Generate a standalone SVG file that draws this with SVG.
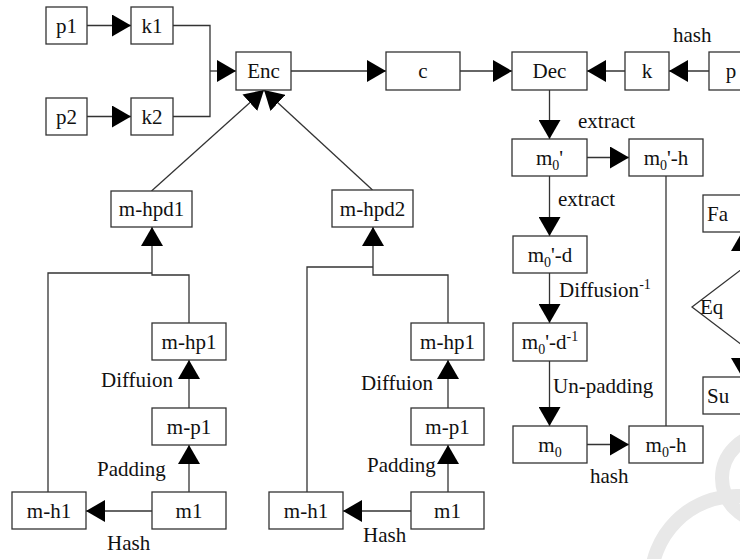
<svg xmlns="http://www.w3.org/2000/svg" width="740" height="559" viewBox="0 0 740 559">
  <defs>
    <marker id="arrow" markerUnits="userSpaceOnUse" markerWidth="19" markerHeight="22" refX="19" refY="11" orient="auto">
      <path d="M0,0 L19,11 L0,22 Z" fill="#000"/>
    </marker>
  </defs>
  <style>
    .box { fill: #fff; stroke: #333; stroke-width: 1.3; }
    .line { fill: none; stroke: #333; stroke-width: 1.3; }
    .arr { marker-end: url(#arrow); }
    .c { text-anchor: middle; }
    .sub { font-size: 14px; }
    .mark { fill: none; stroke: #e8e8e8; stroke-width: 14; }
  </style>

  <rect width="740" height="559" fill="#fff"/>

  <!-- background logo arcs -->
  <g id="logo">
    <circle class="mark" cx="737" cy="582" r="86"/>
    <circle class="mark" cx="765" cy="478" r="43"/>
  </g>

  <!-- connectors -->
  <g id="connectors">
    <path class="line arr" d="M87,25.5 H131"/>
    <path class="line arr" d="M87,116.5 H131"/>
    <path class="line" d="M173,25.5 H210 V116.5 H173"/>
    <path class="line arr" d="M210,71 H236"/>
    <path class="line arr" d="M291,71 H386"/>
    <path class="line arr" d="M460,71 H512"/>
    <path class="line arr" d="M625,71 H587"/>
    <path class="line arr" d="M709,71 H669"/>
    <path class="line arr" d="M549.5,90 V139"/>
    <path class="line arr" d="M587,157.5 H629"/>
    <path class="line arr" d="M549.5,176 V236"/>
    <path class="line arr" d="M549.5,273 V323"/>
    <path class="line arr" d="M549.5,361 V426"/>
    <path class="line arr" d="M587,444.5 H629"/>
    <path class="line" d="M666,176 V426"/>
    <path class="line arr" d="M742,269 V232"/>
    <path class="line arr" d="M742,345 V377"/>
    <!-- into Enc -->
    <path class="line arr" d="M151.5,191 L264,90"/>
    <path class="line arr" d="M372.5,190 L264,90"/>
    <!-- left branch -->
    <path class="line arr" d="M152,511 H86"/>
    <path class="line arr" d="M189,492 V445"/>
    <path class="line arr" d="M189,408 V360"/>
    <path class="line" d="M48,492 V273 H152"/>
    <path class="line arr" d="M189,323 V275 H152 V227"/>
    <!-- right branch -->
    <path class="line arr" d="M411,511 H343"/>
    <path class="line arr" d="M448,492 V445"/>
    <path class="line arr" d="M448,408 V360"/>
    <path class="line" d="M307,492 V267 H373"/>
    <path class="line arr" d="M448,323 V275 H373 V227"/>
  </g>

  <g font-family="Liberation Serif, serif" font-size="21" fill="#111">
  <!-- nodes -->
  <g id="p1"><rect class="box" x="46" y="7" width="41" height="37"/><text class="c" x="66.5" y="33">p1</text></g>
  <g id="k1"><rect class="box" x="131" y="7" width="42" height="37"/><text class="c" x="152" y="33">k1</text></g>
  <g id="p2"><rect class="box" x="46" y="98" width="41" height="37"/><text class="c" x="66.5" y="124">p2</text></g>
  <g id="k2"><rect class="box" x="131" y="98" width="42" height="37"/><text class="c" x="152" y="124">k2</text></g>
  <g id="enc"><rect class="box" x="236" y="52" width="55" height="38"/><text class="c" x="263.5" y="78">Enc</text></g>
  <g id="c"><rect class="box" x="386" y="52" width="74" height="38"/><text class="c" x="423" y="78">c</text></g>
  <g id="dec"><rect class="box" x="512" y="52" width="75" height="38"/><text class="c" x="549.5" y="78">Dec</text></g>
  <g id="k"><rect class="box" x="625" y="52" width="44" height="38"/><text class="c" x="647" y="78">k</text></g>
  <g id="p"><rect class="box" x="709" y="52" width="44" height="38"/><text class="c" x="731" y="78">p</text></g>

  <g id="m0p"><rect class="box" x="512" y="139" width="75" height="37"/><text class="c" x="549.5" y="165">m<tspan class="sub" dy="5">0</tspan><tspan dy="-5">'</tspan></text></g>
  <g id="m0p-h"><rect class="box" x="629" y="139" width="74" height="37"/><text class="c" x="666" y="165">m<tspan class="sub" dy="5">0</tspan><tspan dy="-5">'-h</tspan></text></g>
  <g id="m0p-d"><rect class="box" x="513" y="236" width="74" height="37"/><text class="c" x="550" y="262">m<tspan class="sub" dy="5">0</tspan><tspan dy="-5">'-d</tspan></text></g>
  <g id="m0p-d-inv"><rect class="box" x="513" y="323" width="74" height="38"/><text class="c" x="550" y="349">m<tspan class="sub" dy="5">0</tspan><tspan dy="-5">'-d</tspan><tspan class="sub" dy="-8">-1</tspan></text></g>
  <g id="m0"><rect class="box" x="513" y="426" width="74" height="37"/><text class="c" x="550" y="452">m<tspan class="sub" dy="5">0</tspan></text></g>
  <g id="m0-h"><rect class="box" x="629" y="426" width="74" height="37"/><text class="c" x="666" y="452">m<tspan class="sub" dy="5">0</tspan><tspan dy="-5">-h</tspan></text></g>

  <g id="fa"><rect class="box" x="703" y="195" width="78" height="37"/><text x="707" y="221">Fa</text></g>
  <g id="eq"><polygon class="box" points="692,307 742,269 792,307 742,345"/><text x="700" y="314">Eq</text></g>
  <g id="su"><rect class="box" x="703" y="377" width="78" height="37"/><text x="707" y="403">Su</text></g>

  <g id="m-hpd1"><rect class="box" x="111" y="191" width="81" height="36"/><text class="c" x="151.5" y="216">m-hpd1</text></g>
  <g id="m-hp1-a"><rect class="box" x="152" y="323" width="74" height="37"/><text class="c" x="189" y="349">m-hp1</text></g>
  <g id="m-p1-a"><rect class="box" x="152" y="408" width="74" height="37"/><text class="c" x="189" y="434">m-p1</text></g>
  <g id="m1-a"><rect class="box" x="152" y="492" width="74" height="37"/><text class="c" x="189" y="518">m1</text></g>
  <g id="m-h1-a"><rect class="box" x="12" y="492" width="74" height="37"/><text class="c" x="49" y="518">m-h1</text></g>

  <g id="m-hpd2"><rect class="box" x="332" y="190" width="81" height="37"/><text class="c" x="372.5" y="216">m-hpd2</text></g>
  <g id="m-hp1-b"><rect class="box" x="411" y="323" width="73" height="37"/><text class="c" x="447.5" y="349">m-hp1</text></g>
  <g id="m-p1-b"><rect class="box" x="411" y="408" width="73" height="37"/><text class="c" x="447.5" y="434">m-p1</text></g>
  <g id="m1-b"><rect class="box" x="411" y="492" width="73" height="37"/><text class="c" x="447.5" y="518">m1</text></g>
  <g id="m-h1-b"><rect class="box" x="269" y="492" width="74" height="37"/><text class="c" x="306" y="518">m-h1</text></g>

  <!-- edge labels -->
  <g id="labels">
    <text x="673" y="42">hash</text>
    <text x="578" y="128">extract</text>
    <text x="558" y="206">extract</text>
    <text x="559" y="297">Diffusion<tspan class="sub" dy="-8">-1</tspan></text>
    <text x="553" y="393">Un-padding</text>
    <text x="590" y="483">hash</text>
    <text x="101" y="387">Diffuion</text>
    <text x="97" y="476">Padding</text>
    <text x="107" y="550">Hash</text>
    <text x="361" y="390">Diffuion</text>
    <text x="367" y="472">Padding</text>
    <text x="363" y="542">Hash</text>
  </g>
  </g>
</svg>
